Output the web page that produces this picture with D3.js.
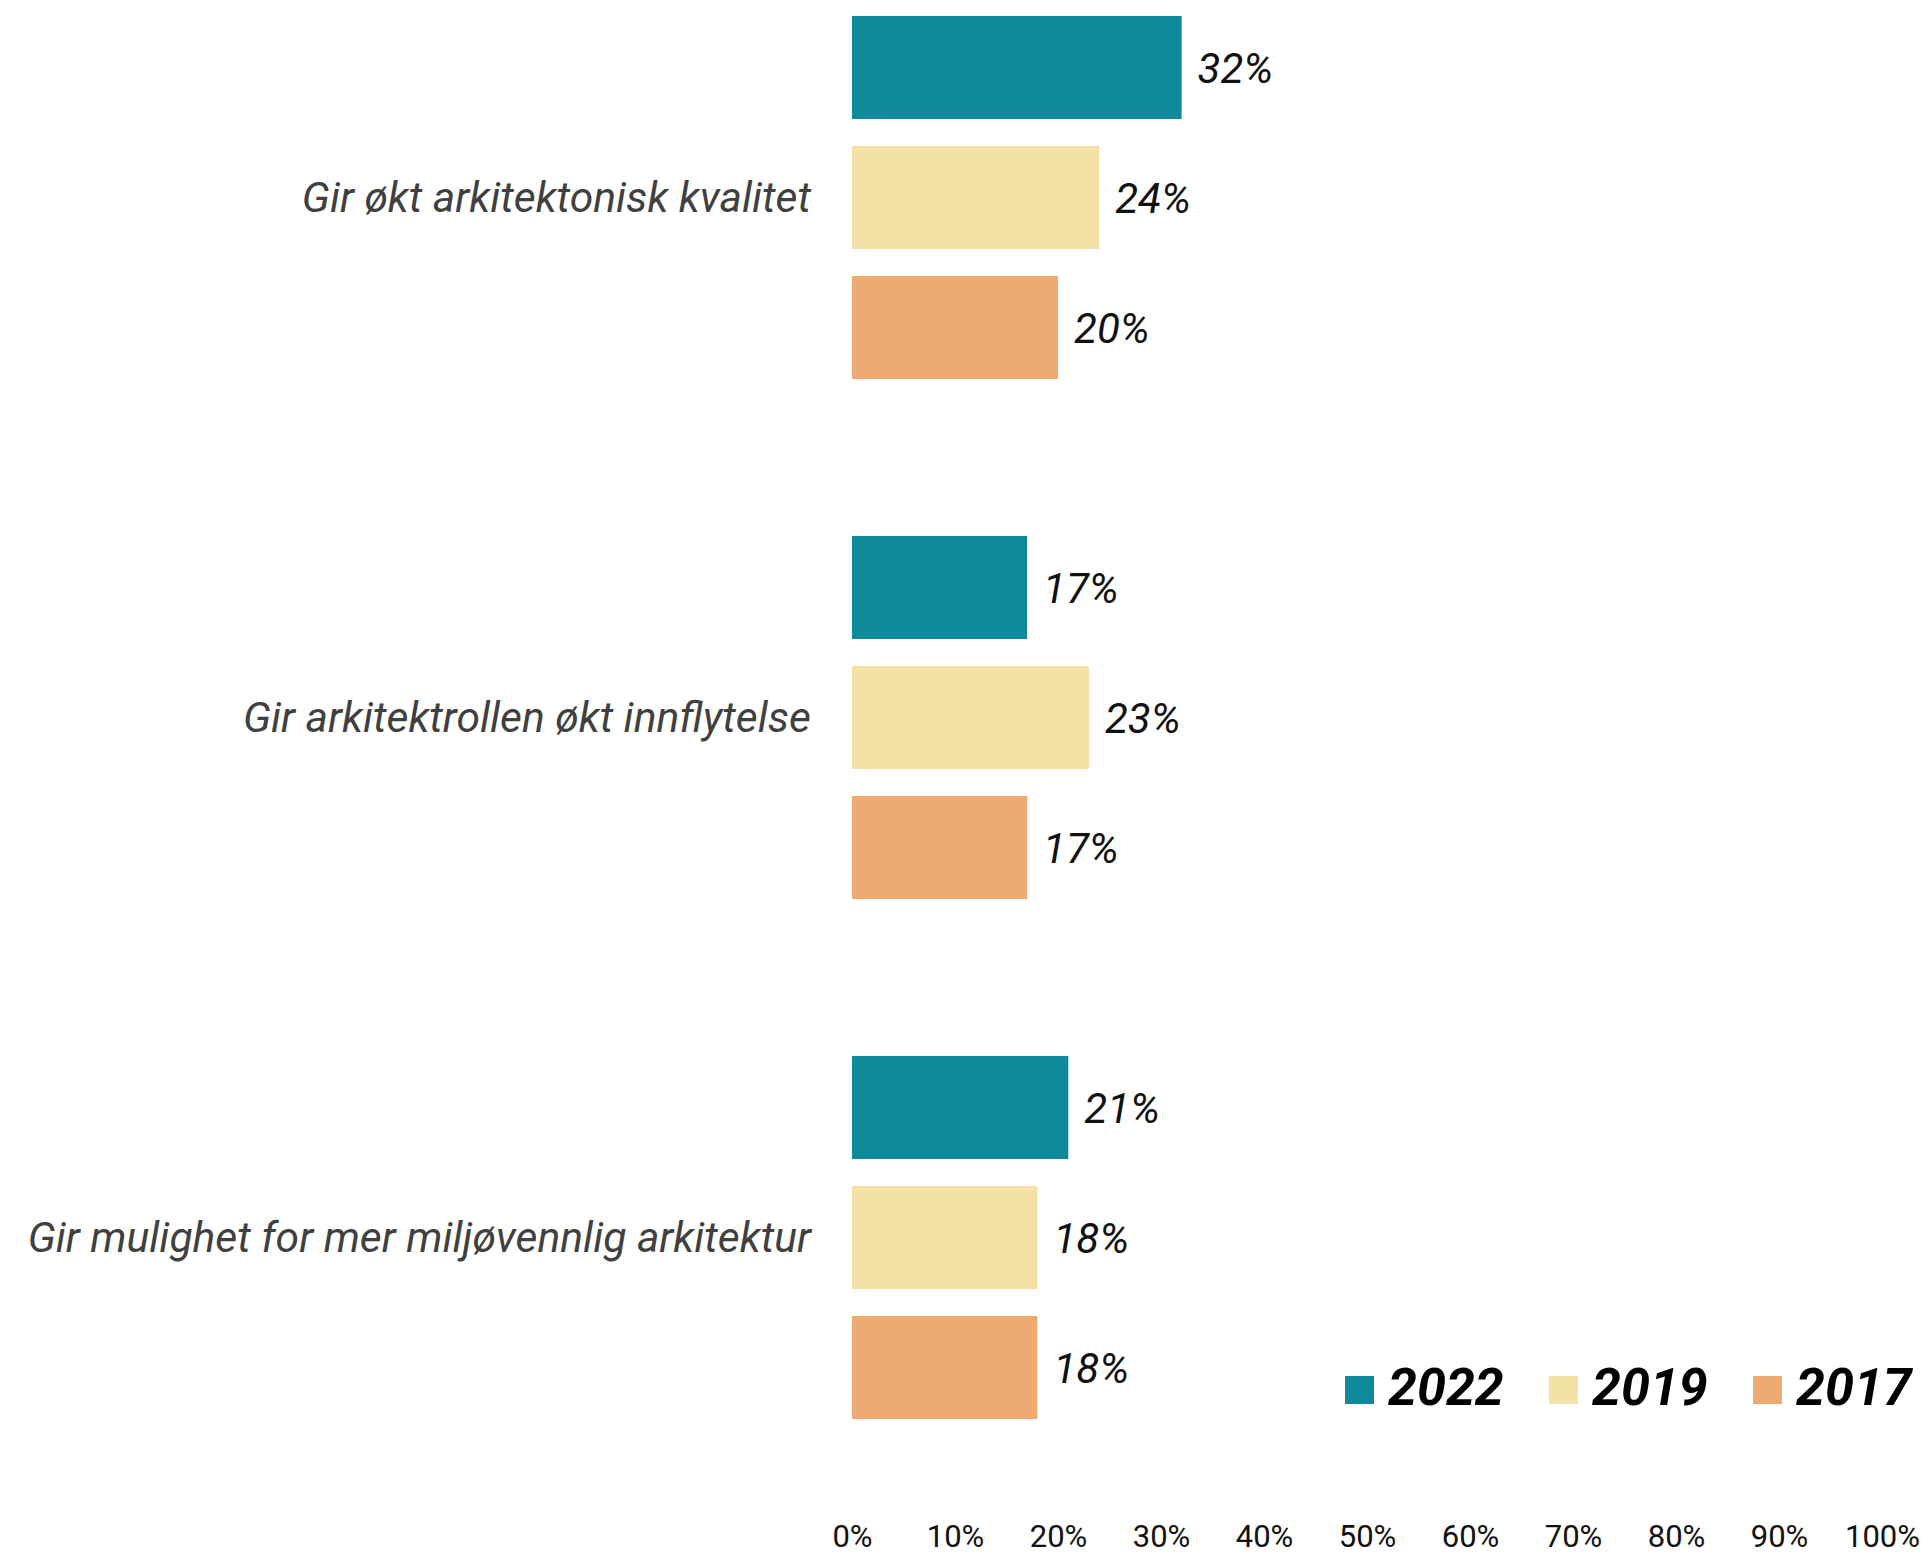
<!DOCTYPE html>
<html>
<head>
  <meta charset="utf-8">
  <style>
    body {
      margin: 0;
      background: white;
    }
    svg text {
      font-family: Roboto, "Noto Sans", sans-serif;
    }
    .cat {
      font-size: 42.6px;
      font-style: italic;
      fill: #404040;
    }
    .val {
      font-size: 42px;
      font-style: italic;
      fill: #111;
    }
    .legend text {
      font-size: 52px;
      font-style: italic;
      font-weight: bold;
      fill: #000;
    }
    .x-axis text {
      font-size: 31px;
      fill: #111;
    }
  </style>
</head>
<body>
  <div id="chart"></div>
  <script src="https://d3js.org/d3.v7.min.js"></script>
  <script>
    var width = 1929, height = 1554;

    var categories = [
      "Gir økt arkitektonisk kvalitet",
      "Gir arkitektrollen økt innflytelse",
      "Gir mulighet for mer miljøvennlig arkitektur"
    ];
    var years = ["2022", "2019", "2017"];
    var values2022 = [32, 17, 21];
    var values2019 = [24, 23, 18];
    var values2017 = [20, 17, 18];
    var tickValues = [0, 10, 20, 30, 40, 50, 60, 70, 80, 90, 100];
    var colours = ["#10899a", "#f4e1a6", "#edab72"];

    var series = [values2022, values2019, values2017];

    var svg = d3.select("#chart").append("svg")
        .attr("width", width)
        .attr("height", height);

    var x = d3.scaleLinear().domain([0, 100]).range([852, 1882]);

    var y = d3.scaleBand()
        .domain(categories)
        .range([16, 1419])
        .paddingInner(0.302)
        .paddingOuter(0);

    var yInner = d3.scaleBand()
        .domain(years)
        .range([0, y.bandwidth()])
        .paddingInner(0.2077);

    var colour = d3.scaleOrdinal().domain(years).range(colours);

    // flatten into one row per bar
    var rows = [];
    categories.forEach((c, i) => {
      years.forEach((yr, j) => {
        rows.push({ cat: c, year: yr, value: series[j][i] });
      });
    });

    var groups = svg.selectAll("g.group")
        .data(categories)
      .enter().append("g")
        .attr("class", "group")
        .attr("transform", d => "translate(0," + y(d) + ")");

    groups.append("text")
        .attr("class", "cat")
        .attr("x", 811)
        .attr("y", y.bandwidth() / 2)
        .attr("dy", "0.35em")
        .attr("text-anchor", "end")
        .text(d => d);

    var bars = svg.selectAll("g.bar")
        .data(rows)
      .enter().append("g")
        .attr("class", "bar")
        .attr("transform", d => "translate(0," + (y(d.cat) + yInner(d.year)) + ")");

    bars.append("rect")
        .attr("x", x(0))
        .attr("width", d => x(d.value) - x(0))
        .attr("height", yInner.bandwidth())
        .style("fill", d => colour(d.year));

    bars.append("text")
        .attr("class", "val")
        .attr("x", d => x(d.value) + 16)
        .attr("y", yInner.bandwidth() / 2)
        .attr("dy", "0.36em")
        .text(d => d.value + "%");

    // x axis, no line or ticks, just labels
    var axis = svg.append("g")
        .attr("class", "x-axis")
        .attr("transform", "translate(0,1522)")
        .call(d3.axisBottom(x).tickValues(tickValues).tickSize(0).tickFormat(d => d + "%"));
    axis.select(".domain").remove();
    axis.selectAll("text").attr("font-family", null).attr("font-size", null).attr("fill", null);

    // legend
    var legend = svg.append("g").attr("class", "legend");
    var item = legend.selectAll("g")
        .data(years)
      .enter().append("g")
        .attr("transform", (d, i) => "translate(" + (1345 + i * 204) + ",1376)");
    item.append("rect")
        .attr("width", 29)
        .attr("height", 28)
        .style("fill", d => colour(d));
    item.append("text")
        .attr("x", 43)
        .attr("y", 29)
        .text(d => d);
  </script>
</body>
</html>
